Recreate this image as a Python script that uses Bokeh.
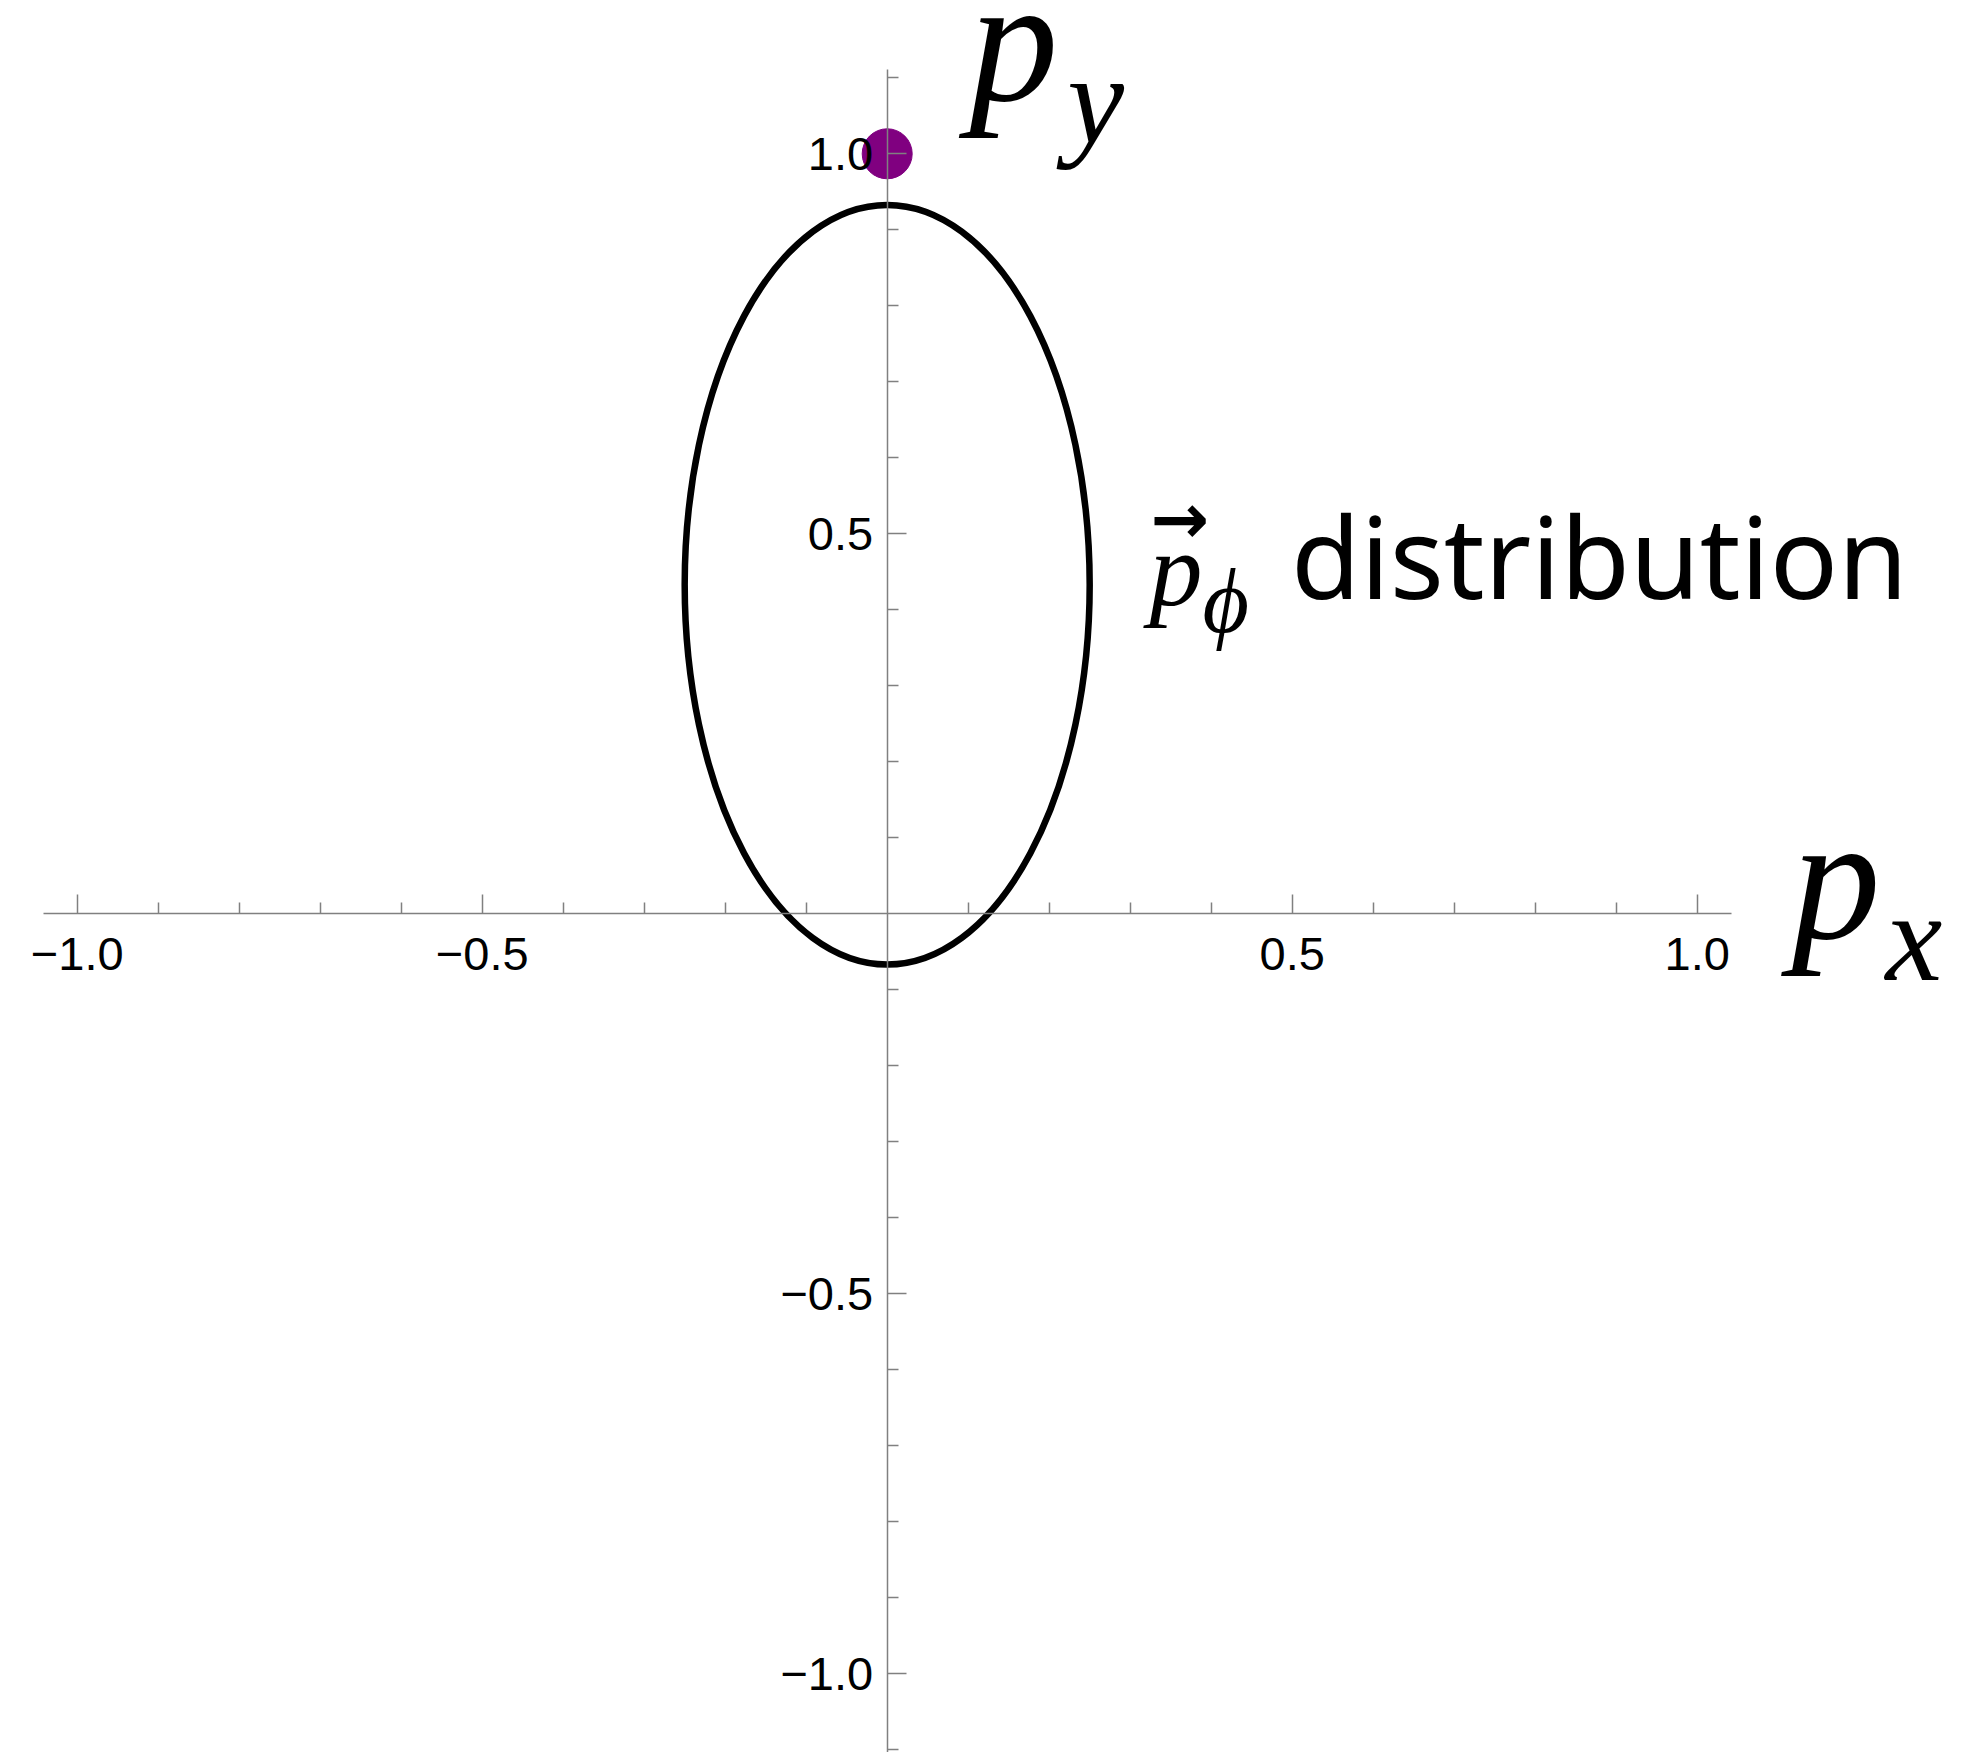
from bokeh.plotting import figure
from bokeh.models import FixedTicker, Range1d
from bokeh.core.properties import value
from bokeh.embed import file_html
from bokeh.resources import INLINE

# Axis ticks (momentum components)
x_major = [-1.0, -0.5, 0.5, 1.0]
x_major_labels = ["\u22121.0", "\u22120.5", "0.5", "1.0"]
y_major = [-1.0, -0.5, 0.5, 1.0]
y_major_labels = ["\u22121.0", "\u22120.5", "0.5", "1.0"]
x_minor = [-0.9, -0.8, -0.7, -0.6, -0.4, -0.3, -0.2, -0.1,
           0.1, 0.2, 0.3, 0.4, 0.6, 0.7, 0.8, 0.9]
y_minor = [-1.1, -0.9, -0.8, -0.7, -0.6, -0.4, -0.3, -0.2, -0.1,
           0.1, 0.2, 0.3, 0.4, 0.6, 0.7, 0.8, 0.9, 1.1]

# p_phi distribution: ellipse with one focus at the origin
ellipse_cx = [0.0]
ellipse_cy = [0.433]
ellipse_w = [0.5]
ellipse_h = [1.0]

# marked momentum
point_x = [0.0]
point_y = [1.0]

W, H = 1963, 1752
p = figure(width=W, height=H,
           x_range=Range1d(-1.0947, 1.3288), y_range=Range1d(-1.1036, 1.2017),
           output_backend="svg", toolbar_location=None,
           min_border=0, min_border_left=0, min_border_right=0,
           min_border_top=0, min_border_bottom=0)
p.outline_line_color = None
p.xgrid.visible = False
p.ygrid.visible = False
p.background_fill_color = "white"
p.border_fill_color = "white"

AX_COLOR = "#808080"
for ax, major, labels, minor, bounds in (
        (p.xaxis[0], x_major, x_major_labels, x_minor, (-1.042, 1.042)),
        (p.yaxis[0], y_major, y_major_labels, y_minor, (-1.111, 1.111))):
    ax.fixed_location = 0
    ax.bounds = bounds
    ax.ticker = FixedTicker(ticks=major, minor_ticks=minor)
    ax.major_label_overrides = dict(zip(major, labels))
    ax.axis_line_color = AX_COLOR
    ax.axis_line_width = 1.5
    ax.major_tick_line_color = AX_COLOR
    ax.minor_tick_line_color = AX_COLOR
    ax.major_tick_line_width = 1.5
    ax.minor_tick_line_width = 1.5
    ax.major_tick_in = 19
    ax.major_tick_out = 0
    ax.minor_tick_in = 11
    ax.minor_tick_out = 0
    ax.major_label_text_font = "Liberation Sans"
    ax.major_label_text_font_size = "47px"
    ax.major_label_text_color = "black"
p.xaxis.major_label_standoff = 24
p.yaxis.major_label_standoff = 14

p.ellipse(x=ellipse_cx, y=ellipse_cy, width=ellipse_w, height=ellipse_h,
          fill_color=None, line_color="black", line_width=6.5)
p.scatter(x=point_x, y=point_y, size=50, color="#800080")


def put(x, y, txt, font, size, italic=False, bold=False, dx=0, dy=0):
    style = "italic" if italic else ("bold" if bold else "normal")
    p.text(x=[x], y=[y], text=[txt], text_font=value(font),
           text_font_size=size, text_font_style=style,
           text_align="left", text_baseline="alphabetic", text_color="black",
           x_offset=dx, y_offset=dy)


SERIF = "Liberation Serif"
# axis names
put(0.094, 1.074, "p", SERIF, "178px", italic=True, dx=6, dy=-58)
put(0.094, 1.074, "y", SERIF, "128px", italic=True, dx=104, dy=2)
put(1.109, -0.026, "p", SERIF, "178px", italic=True, dx=6, dy=-56)
put(1.109, -0.026, "x", SERIF, "128px", italic=True, dx=100, dy=3)

# distribution label
put(0.319, 0.411, "p", SERIF, "106px", italic=True, dx=4, dy=-32)
put(0.319, 0.411, "\u2192", "DejaVu Sans", "70px", bold=True, dx=5, dy=-82)
put(0.319, 0.411, "\u03d5", SERIF, "90px", italic=True, dx=57, dy=0)
put(0.506, 0.411, "distribution", "Noto Sans", "113px", dx=-6, dy=-46)

open("out.html", "w").write(file_html(p, INLINE))
